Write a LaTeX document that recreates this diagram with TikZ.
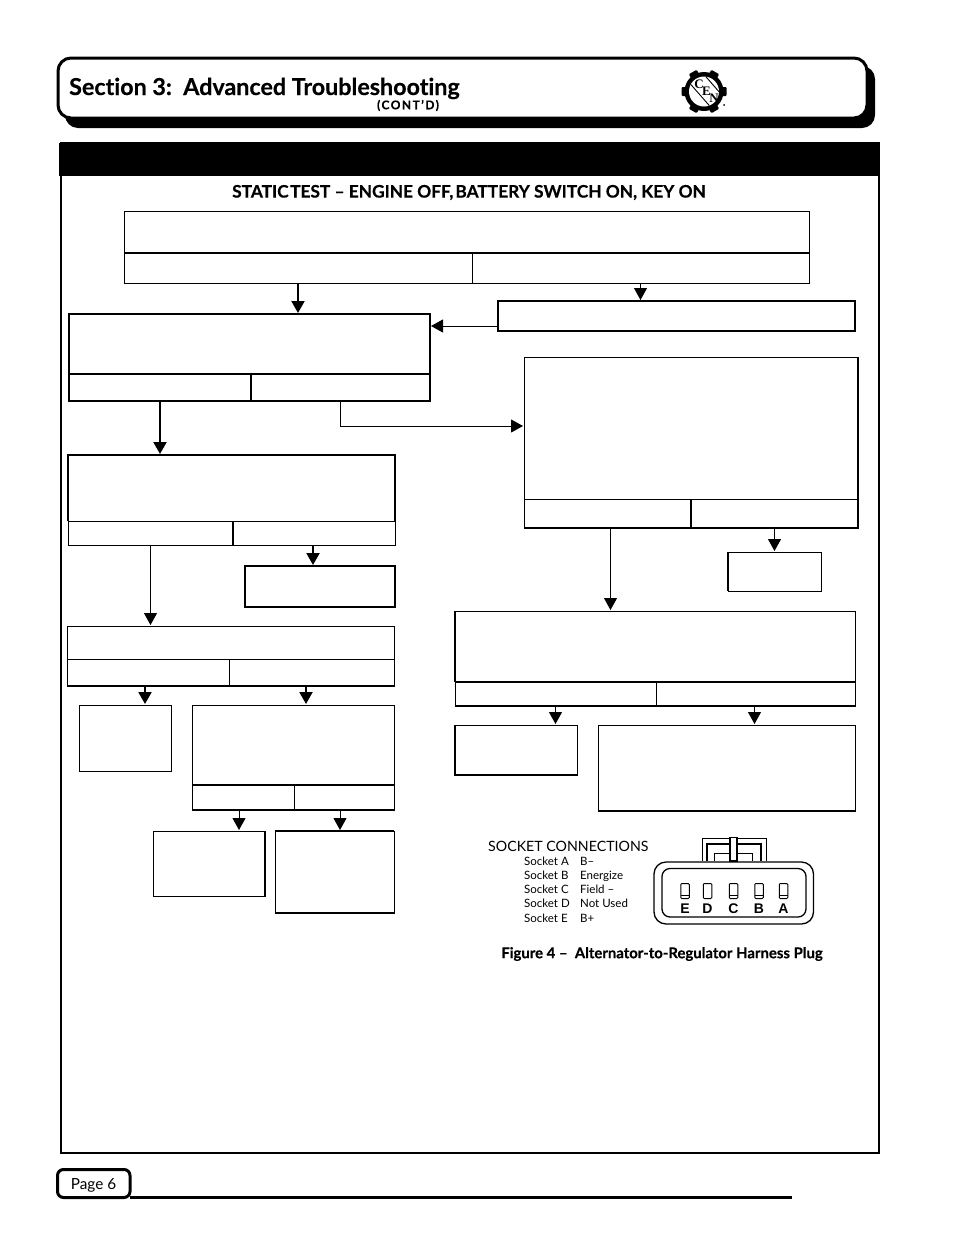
\documentclass[tikz,border=0pt]{standalone}
\usepackage{fontspec}
\setmainfont{Lato}[Ligatures=CommonOff,BoldFeatures={FakeBold=0.4}]
\newfontfamily\arialf{Liberation Sans}
\newfontfamily\timesf{Liberation Serif}
\usetikzlibrary{arrows.meta,calc}
\tikzset{
  flowbox/.style={draw=black,fill=white,inner sep=0pt,outer sep=0pt,rectangle},
  flowarrow/.style={draw=black,line width=#1,-{Triangle[length=12pt,width=13pt]},shorten >=1pt},
  flowarrow/.default=1pt,
  divider/.style={line width=2pt,line cap=butt},
  slot/.style={draw=black,line width=1pt,fill=white,inner sep=0pt,rounded corners=1pt,minimum width=8.5pt,minimum height=15pt},
  slotlabel/.style={font=\arialf\bfseries\fontsize{14}{14}\selectfont,inner sep=0pt},
  sockettext/.style={font=\fontsize{11.5}{12}\selectfont,anchor=base west,inner sep=0pt},
  logoletter/.style={inner sep=0pt,font=\timesf\bfseries\fontsize{13}{13}\selectfont},
}
\newcommand{\flowbox}[6]{%
  \pgfmathsetmacro\bw{#4-#2}\pgfmathsetmacro\bh{#5-#3}%
  \pgfmathsetmacro\bcx{(#4+#2)/2}\pgfmathsetmacro\bcy{(#5+#3)/2}%
  \node[flowbox,line width=#6pt,minimum width=\bw pt,minimum height=\bh pt] (#1) at (\bcx,\bcy) {};}
\begin{document}
\begin{tikzpicture}[x=1pt,y=-1pt]
\useasboundingbox[fill=white] (0,0) rectangle (954,1235);
% header
\fill[rounded corners=13pt] (65,66) rectangle (875,128);
\draw[line width=3pt,fill=white,rounded corners=13pt] (58,58) rectangle (867,118);
\node[anchor=base west,inner sep=0pt,font=\bfseries\fontsize{23.3}{23}\selectfont] (title) at (69,95) {Section 3:\ \ Advanced Troubleshooting};
\node[inner sep=0pt,font=\bfseries\fontsize{12}{12}\selectfont\addfontfeature{LetterSpace=12}] (cont) at (408,105.5) {(CONT’D)};
% logo
\foreach \a in {0,60,...,300}{
  \fill[rotate around={\a:(704,91.5)},rounded corners=1pt] (717,87) rectangle (726.5,96);
}
\fill (704,91.5) circle (19.5);
\fill[white] (704,91.5) circle (15);
\begin{scope}
\clip (704,91.5) circle (15);
\draw[line width=0.9pt] (694,63) -- (724,97.5);
\draw[line width=0.9pt] (679,71) -- (711,107.5);
\end{scope}
\node[logoletter] (logoc) at (699,84) {C};
\node[logoletter] (logoe) at (706.5,91) {E};
\node[logoletter] (logon) at (714,98.5) {N};
\fill (724,105) circle (1);
% frame and band
\node[flowbox,fill=none,line width=1.5pt,minimum width=818pt,minimum height=1010pt] (frame) at (470,648) {};
\fill (59,143) rectangle (880,176);
\node[inner sep=0pt,font=\bfseries\fontsize{17.3}{17}\selectfont] (static) at (469,192.5) {STATIC\hspace{1.5pt}TEST – ENGINE OFF,\hspace{2pt}BATTERY SWITCH ON, KEY ON};
% boxes
\flowbox{top}{124}{211}{809}{253}{1}
\flowbox{topl}{124}{253}{472}{283}{1}
\flowbox{topr}{472}{253}{809}{283}{1}
\draw[divider] (top.south west) -- (top.south east);
\flowbox{c}{498}{301}{855}{331}{2}
\flowbox{bb}{69}{314}{430}{374}{2}
\flowbox{bby}{69}{374}{251}{401}{1.3}
\flowbox{bbn}{251}{374}{430}{401}{1.3}
\draw[divider] (bb.south west) -- (bb.south east);
\flowbox{rr}{524}{357}{858}{499}{1}
\draw[divider] (rr.north east) -- (rr.south east);
\flowbox{rl}{524}{499}{691}{528}{1}
\flowbox{rn}{691}{499}{858}{528}{1}
\draw[divider] (rl.north east) -- (rl.south east);
\draw[divider] (rl.south west) -- (rn.south east);
\draw[divider] (rn.north east) -- (rn.south east);
\flowbox{rs}{728}{552}{821}{591}{1}
\draw[divider] (rs.north west) -- (rs.south west);
\flowbox{bc}{68}{455}{395}{521}{1}
\draw[divider] (bc.south west) -- (bc.north west) -- (bc.north east) -- (bc.south east);
\flowbox{bcl}{68}{521}{233}{545}{1}
\flowbox{bcr}{233}{521}{395}{545}{1}
\draw[divider] (bcl.north east) -- (bcl.south east);
\flowbox{bd}{245}{566}{395}{607}{2}
\flowbox{be}{67}{626}{394}{659}{1}
\flowbox{bel}{67}{659}{229}{686}{1}
\flowbox{ber}{229}{659}{394}{686}{1}
\draw[divider] (bel.south west) -- (ber.south east);
\flowbox{bf}{79}{705}{171}{771}{1}
\flowbox{bg}{192}{705}{394}{785}{1}
\flowbox{bgl}{192}{785}{294}{810}{1}
\flowbox{bgr}{294}{785}{394}{810}{1}
\draw[divider] (bg.south west) -- (bg.south east);
\draw[divider] (bgl.south west) -- (bgr.south east);
\flowbox{bh}{153}{831}{265}{896}{1}
\draw[divider] (bh.north east) -- (bh.south east);
\flowbox{bi}{275}{831}{394}{913}{1}
\draw[divider] (bi.north west) -- (bi.north east);
\draw[divider] (bi.south west) -- (bi.south east);
\flowbox{bj}{455}{611}{855}{682}{1}
\draw[divider] (bj.south west) -- (bj.north west);
\flowbox{bjl}{455}{682}{656}{706}{1}
\flowbox{bjr}{656}{682}{855}{706}{1}
\draw[divider] (bj.south west) -- (bj.south east);
\draw[divider] (bjl.south west) -- (bjr.south east);
\flowbox{bk}{455}{725}{577}{775}{1}
\draw[divider] (bk.north west) -- (bk.south west) -- (bk.south east);
\flowbox{bm}{598}{725}{855}{811}{1}
\draw[divider] (bm.south west) -- (bm.south east);
% connectors
\draw[flowarrow=2pt] (topl.south) -- (topl.south |- bb.north);
\draw[flowarrow=1pt] (topr.south) -- (topr.south |- c.north);
\draw[flowarrow=1pt] ([yshift=-10pt]c.west) -- ([yshift=-10pt]c.west -| bb.east);
\draw[flowarrow=2pt] (bby.south) -- (bby.south |- bc.north);
\draw[flowarrow=1pt] (bbn.south) |- ([yshift=2pt]rr.west);
\draw[flowarrow=1pt] (bcl.south) -- (bcl.south |- be.north);
\draw[flowarrow=2pt] ([xshift=-1pt]bcr.south) -- ([xshift=-1pt]bcr.south |- bd.north);
\draw[flowarrow=2pt] ([xshift=-3pt]bel.south) -- ([xshift=-3pt]bel.south |- bf.north);
\draw[flowarrow=2pt] ([xshift=-5.5pt]ber.south) -- ([xshift=-5.5pt]ber.south |- bg.north);
\draw[flowarrow=1pt] ([xshift=-4pt]bgl.south) -- ([xshift=-4pt]bgl.south |- bh.north);
\draw[flowarrow=1pt] ([xshift=-4pt]bgr.south) -- ([xshift=-4pt]bgr.south |- bi.north);
\draw[flowarrow=1pt] ([xshift=3pt]rl.south) -- ([xshift=3pt]rl.south |- bj.north);
\draw[flowarrow=1pt] (rn.south) -- (rn.south |- rs.north);
\draw[flowarrow=1pt] (bjl.south) -- (bjl.south |- bk.north);
\draw[flowarrow=1pt] ([xshift=-1pt]bjr.south) -- ([xshift=-1pt]bjr.south |- bm.north);
% socket list
\node[anchor=base west,inner sep=0pt,font=\fontsize{14.2}{14}\selectfont] (sc) at (488,851) {SOCKET CONNECTIONS};
\foreach \n/\y/\s/\t in {a/865/A/B–,b/879/B/Energize,c/893/C/Field –,d/907/D/Not Used,e/922/E/B+}{
  \node[sockettext] (sl\n) at (524,\y) {Socket \s};
  \node[sockettext] (st\n) at (580,\y) {\t};
}
\node[inner sep=0pt,font=\bfseries\fontsize{14.9}{15}\selectfont] (fig) at (662,954) {Figure 4 –\ \ Alternator-to-Regulator Harness Plug};
% plug
\draw[line width=1pt,fill=white] (702,861) -- (702,838.5) -- (766,838.5) -- (766,861);
\draw[line width=2pt] (707,861) -- (707,844) -- (761,844) -- (761,861);
\draw[line width=1pt] (714,861) -- (714,853) -- (752,853) -- (752,861);
\draw[line width=1.8pt,fill=white] (730,861) rectangle (737,837.5);
\draw[line width=1.3pt,fill=white,rounded corners=12pt] (654,862) rectangle (813.5,924);
\draw[line width=1.3pt,rounded corners=8pt] (662,868.5) rectangle (806,917);
\foreach \n/\x/\b in {E/685/1,D/707.5/0,C/733.5/1,B/759/1,A/783.5/1}{
  \node[slot] (s\n) at (\x,891) {};
  \ifnum\b=1 \draw[line width=1pt] (\x-4.2,895.5) -- (\x+4.2,895.5);\fi
  \node[slotlabel] (l\n) at (\x,908.5) {\n};
}
% footer
\draw[line width=3pt] (130,1197) -- (792,1197);
\draw[line width=3pt,fill=white,rounded corners=6pt] (57.5,1169.5) rectangle (130,1197.5);
\node[inner sep=0pt,font=\fontsize{15.3}{15}\selectfont] (page) at (93.5,1185.5) {Page 6};
\end{tikzpicture}
\end{document}
